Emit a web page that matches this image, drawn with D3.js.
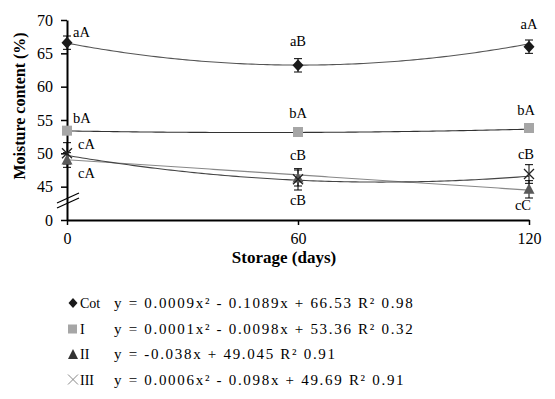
<!DOCTYPE html>
<html>
<head>
<meta charset="utf-8">
<script src="https://cdn.jsdelivr.net/npm/d3@7"></script>
<style>
  html, body { margin: 0; padding: 0; background: #fff; }
  svg { display: block; font-family: 'Liberation Serif', 'Times New Roman', serif; }
</style>
</head>
<body>
<svg id="chart" width="555" height="399"></svg>
<script>
// ---- data ----
const days = [0, 60, 120];
const yTicks = [40, 45, 50, 55, 60, 65, 70];
const yTickLabels = ["0", "45", "50", "55", "60", "65", "70"];
const xTicks = [0, 60, 120];

const cotValues = [66.6, 63.2, 66.0];
const cotErr = [1.0, 1.0, 1.0];
const iValues = [53.4, 53.2, 53.8];
const iErr = [0.3, 0.3, 0.3];
const iiValues = [49.0, 46.3, 44.6];
const iiErr = [1.1, 1.2, 1.3];
const iiiValues = [50.0, 46.1, 46.9];
const iiiErr = [1.6, 1.6, 1.4];

// trendline coefficients [a2, a1, a0] as printed in the legend
const cotCoef = [0.0009, -0.1089, 66.53];
const iCoef = [0.0001, -0.0098, 53.36];
const iiCoef = [0, -0.038, 49.045];
const iiiCoef = [0.0006, -0.098, 49.69];

const cotLabels = ["aA", "aB", "aA"];
const iLabels = ["bA", "bA", "bA"];
const iiLabels = ["cA", "cB", "cC"];
const iiiLabels = ["cA", "cB", "cB"];

const legendNames = ["Cot", "I", "II", "III"];
const legendEqs = [
  "y = 0.0009x\u00B2 - 0.1089x + 66.53 R\u00B2 0.98",
  "y = 0.0001x\u00B2 - 0.0098x + 53.36 R\u00B2 0.32",
  "y = -0.038x + 49.045 R\u00B2 0.91",
  "y = 0.0006x\u00B2 - 0.098x + 49.69 R\u00B2 0.91"
];

// ---- drawing ----
const svg = d3.select("#chart");
const serif = "'Liberation Serif', 'Times New Roman', serif";
const x = d3.scaleLinear().domain([0, 120]).range([67, 529]);
const y = d3.scaleLinear().domain([40, 70]).range([220, 20]);

// trendlines
const lineGen = d3.line().x(d => x(d[0])).y(d => y(d[1]));
function trend(coef) {
  return d3.range(0, 120.5, 1).map(t => [t, coef[0]*t*t + coef[1]*t + coef[2]]);
}
const trends = [
  {coef: cotCoef, color: "#555"},
  {coef: iCoef, color: "#333"},
  {coef: iiCoef, color: "#888"},
  {coef: iiiCoef, color: "#444"}
];
trends.forEach(t => {
  svg.append("path").attr("d", lineGen(trend(t.coef)))
    .attr("fill", "none").attr("stroke", t.color).attr("stroke-width", 1.1);
});

// axes
const yAxis = d3.axisLeft(y).tickValues(yTicks)
  .tickFormat((d, i) => yTickLabels[i]).tickSize(6).tickSizeOuter(0).tickPadding(8);
const gy = svg.append("g").attr("transform", "translate(67,0)").call(yAxis);
gy.attr("font-family", serif);
gy.select(".domain").attr("stroke-width", 2).attr("stroke", "#000");
gy.selectAll(".tick line").attr("stroke-width", 1.5);
gy.selectAll("text").attr("font-family", serif).attr("font-size", 16).attr("fill", "#000");

const xAxis = d3.axisBottom(x).tickValues(xTicks).tickFormat(d3.format("d"))
  .tickSize(5).tickSizeOuter(0).tickPadding(8);
const gx = svg.append("g").attr("transform", "translate(0,220)").call(xAxis);
gx.attr("font-family", serif);
gx.select(".domain").attr("stroke-width", 2).attr("stroke", "#000");
gx.selectAll(".tick line").attr("stroke-width", 1.5);
gx.selectAll("text").attr("font-family", serif).attr("font-size", 16).attr("fill", "#000");

// axis break marks
const brk = svg.append("g").attr("stroke", "#000").attr("stroke-width", 1.3);
[0, -5].forEach(o => {
  brk.append("line").attr("x1", 57).attr("y1", 208 + o).attr("x2", 79).attr("y2", 198 + o);
});

// error bars
function errBars(vals, errs) {
  const g = svg.append("g").attr("stroke", "#000").attr("stroke-width", 1);
  vals.forEach((v, i) => {
    const cx = x(days[i]);
    g.append("line").attr("x1", cx).attr("x2", cx).attr("y1", y(v + errs[i])).attr("y2", y(v - errs[i]));
    [v + errs[i], v - errs[i]].forEach(e => {
      g.append("line").attr("x1", cx - 4).attr("x2", cx + 4).attr("y1", y(e)).attr("y2", y(e));
    });
  });
}
errBars(cotValues, cotErr);
errBars(iValues, iErr);
errBars(iiValues, iiErr);
errBars(iiiValues, iiiErr);

// markers
function marker(g, type, cx, cy) {
  if (type === "diamond") {
    g.append("path").attr("d", `M${cx},${cy-6}L${cx+5.5},${cy}L${cx},${cy+6}L${cx-5.5},${cy}Z`).attr("fill", "#1a1a1a");
  } else if (type === "square") {
    g.append("rect").attr("x", cx - 5).attr("y", cy - 5).attr("width", 10).attr("height", 10).attr("fill", "#a6a6a6");
  } else if (type === "triangle") {
    g.append("path").attr("d", `M${cx},${cy-6}L${cx+5.5},${cy+4.5}L${cx-5.5},${cy+4.5}Z`).attr("fill", "#595959");
  } else if (type === "x") {
    g.append("path").attr("d", `M${cx-5},${cy-5}L${cx+5},${cy+5}M${cx-5},${cy+5}L${cx+5},${cy-5}`)
      .attr("stroke", "#222").attr("stroke-width", 1.3).attr("fill", "none");
  }
}
const mg = svg.append("g");
iValues.forEach((v, i) => marker(mg, "square", x(days[i]), y(v)));
iiValues.forEach((v, i) => marker(mg, "triangle", x(days[i]), y(v)));
iiiValues.forEach((v, i) => marker(mg, "x", x(days[i]), y(v)));
cotValues.forEach((v, i) => marker(mg, "diamond", x(days[i]), y(v)));

// point labels
const lg = svg.append("g").attr("font-family", serif).attr("font-size", 14.5).attr("fill", "#000");
function labels(texts, vals, offsets, anchors, dxs) {
  texts.forEach((t, i) => {
    lg.append("text").attr("x", x(days[i]) + dxs[i]).attr("y", y(vals[i]) + offsets[i])
      .attr("text-anchor", anchors[i]).text(t);
  });
}
labels(cotLabels, cotValues, [-6, -19, -18], ["start", "middle", "middle"], [6, 0, 0]);
labels(iLabels, iValues, [-8, -14, -13], ["start", "middle", "middle"], [6, 0, -3]);
labels(iiiLabels, iiiValues, [-4, -19, -15], ["start", "middle", "middle"], [11, 0, -3]);
labels(iiLabels, iiValues, [18, 27, 21], ["start", "middle", "middle"], [11, 0, -6]);

// axis titles
svg.append("text").attr("transform", "translate(25,106) rotate(-90)")
  .attr("text-anchor", "middle").attr("font-family", serif).attr("font-weight", "bold")
  .attr("font-size", 16).text("Moisture content (%)");
svg.append("text").attr("x", 284).attr("y", 263)
  .attr("text-anchor", "middle").attr("font-family", serif).attr("font-weight", "bold")
  .attr("font-size", 17).text("Storage (days)");

// legend
const legTypes = ["diamond", "square", "triangle", "x"];
const leg = svg.append("g");
legendNames.forEach((n, i) => {
  const by = 308 + i * 25.5;
  const lm = leg.append("g");
  if (legTypes[i] === "diamond") {
    lm.append("path").attr("d", `M73,${by-10}L77.5,${by-5}L73,${by}L68.5,${by-5}Z`).attr("fill", "#1a1a1a");
  } else if (legTypes[i] === "square") {
    lm.append("rect").attr("x", 68).attr("y", by - 9).attr("width", 9).attr("height", 9).attr("fill", "#a6a6a6");
  } else if (legTypes[i] === "triangle") {
    lm.append("path").attr("d", `M73,${by-10}L78,${by}L68,${by}Z`).attr("fill", "#333");
  } else {
    lm.append("path").attr("d", `M68,${by-10}L78,${by}M68,${by}L78,${by-10}`)
      .attr("stroke", "#888").attr("stroke-width", 1).attr("fill", "none");
  }
  leg.append("text").attr("x", 80).attr("y", by).attr("font-family", serif)
    .attr("font-size", 14).text(n);
  leg.append("text").attr("x", 114).attr("y", by).attr("font-family", serif)
    .attr("font-size", 15).attr("letter-spacing", "1.7px").text(legendEqs[i]);
});
</script>
</body>
</html>
